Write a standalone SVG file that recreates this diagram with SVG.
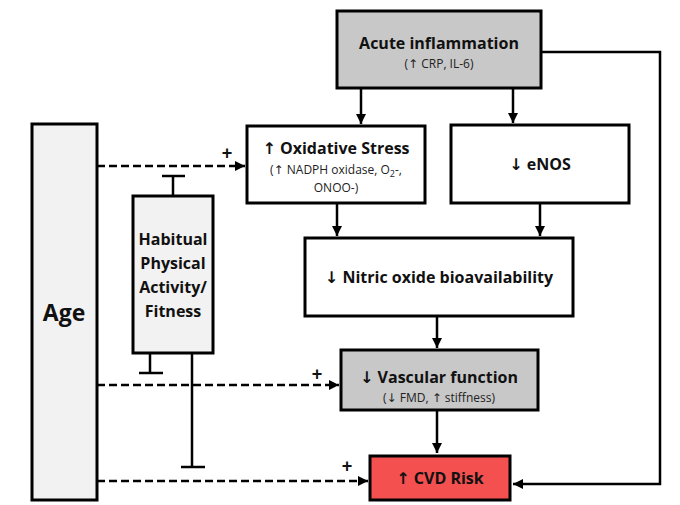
<svg xmlns="http://www.w3.org/2000/svg" width="680" height="505" viewBox="0 0 680 505">
<style>
.box{stroke:#000;stroke-width:3}
.t{font-family:"Open Sans","Liberation Sans",sans-serif;font-weight:bold;font-size:16px;fill:#111;text-anchor:middle}
.s{font-family:"Open Sans","Liberation Sans",sans-serif;font-size:12px;fill:#222;text-anchor:middle}
.a{font-family:"DejaVu Sans",sans-serif}
.c{stroke:#000;stroke-width:2.5;fill:none}
.d{stroke:#000;stroke-width:2.5;fill:none;stroke-dasharray:8 4}
.p{font-family:"Liberation Sans",sans-serif;font-weight:bold;font-size:18px;fill:#111;text-anchor:middle}
.big{font-size:23px}
</style>
<defs>
<marker id="ah" markerUnits="userSpaceOnUse" markerWidth="12" markerHeight="12" refX="10" refY="6" orient="auto">
<path d="M0,1 L10,6 L0,11 Z" fill="#000"/>
</marker>
</defs>
<rect width="680" height="505" fill="#fff"/>
<g id="connectors">
<line class="c" x1="361" y1="88" x2="361" y2="124" marker-end="url(#ah)"/>
<line class="c" x1="513" y1="88" x2="513" y2="123" marker-end="url(#ah)"/>
<line class="c" x1="337" y1="203" x2="337" y2="236" marker-end="url(#ah)"/>
<line class="c" x1="540" y1="203" x2="540" y2="236" marker-end="url(#ah)"/>
<line class="c" x1="437" y1="316" x2="437" y2="348" marker-end="url(#ah)"/>
<line class="c" x1="437" y1="410" x2="437" y2="453" marker-end="url(#ah)"/>
<polyline class="c" points="541,52 660,52 660,484 513,484" marker-end="url(#ah)"/>
<line class="d" x1="97" y1="166" x2="245" y2="166" marker-end="url(#ah)"/>
<line class="d" x1="97" y1="385" x2="339" y2="385" marker-end="url(#ah)"/>
<line class="d" x1="97" y1="481" x2="368" y2="481" marker-end="url(#ah)"/>
<text class="p" x="227" y="159">+</text>
<text class="p" x="317" y="380">+</text>
<text class="p" x="347" y="472">+</text>
<line class="c" x1="173" y1="196" x2="173" y2="176" stroke-width="3"/>
<line class="c" x1="162" y1="176" x2="185" y2="176" stroke-width="3.5"/>
<line class="c" x1="150" y1="353" x2="150" y2="373" stroke-width="3"/>
<line class="c" x1="139" y1="373" x2="163" y2="373" stroke-width="3.5"/>
<line class="c" x1="192" y1="353" x2="192" y2="467" stroke-width="3"/>
<line class="c" x1="181" y1="467" x2="205" y2="467" stroke-width="3.5"/>
</g>
<g id="acute">
<rect class="box" x="337" y="11" width="204" height="77" fill="#c8c8c8"/>
<text class="t" x="439" y="49">Acute inflammation</text>
<text class="s" x="439" y="68">(<tspan class="a">↑</tspan> CRP, IL-6)</text>
</g>
<g id="oxidative">
<rect class="box" x="247" y="126" width="178" height="77" fill="#fff"/>
<text class="t" x="336" y="154"><tspan class="a">↑</tspan> Oxidative Stress</text>
<text class="s" x="336" y="174">(<tspan class="a">↑</tspan> NADPH oxidase, O<tspan font-size="9" dy="3">2</tspan><tspan dy="-3">-,</tspan></text>
<text class="s" x="336" y="192">ONOO-)</text>
</g>
<g id="enos">
<rect class="box" x="451" y="125" width="178" height="78" fill="#fff"/>
<text class="t" x="540" y="170"><tspan class="a">↓</tspan> eNOS</text>
</g>
<g id="no">
<rect class="box" x="305" y="238" width="268" height="78" fill="#fff"/>
<text class="t" x="439" y="283"><tspan class="a">↓</tspan> Nitric oxide bioavailability</text>
</g>
<g id="vascular">
<rect class="box" x="341" y="350" width="197" height="60" fill="#c8c8c8"/>
<text class="t" x="439" y="383"><tspan class="a">↓</tspan> Vascular function</text>
<text class="s" x="439" y="402">(<tspan class="a">↓</tspan> FMD, <tspan class="a">↑</tspan> stiffness)</text>
</g>
<g id="cvd">
<rect class="box" x="370" y="456" width="140" height="44" fill="#f4504f"/>
<text class="t" x="440" y="484"><tspan class="a">↑</tspan> CVD Risk</text>
</g>
<g id="age">
<rect class="box" x="32" y="124" width="65" height="376" fill="#f2f2f2"/>
<text class="t big" x="64" y="321">Age</text>
</g>
<g id="habitual">
<rect class="box" x="133" y="196" width="80" height="157" fill="#f2f2f2"/>
<text class="t" x="173" y="245">Habitual</text>
<text class="t" x="173" y="269">Physical</text>
<text class="t" x="173" y="293">Activity/</text>
<text class="t" x="173" y="317">Fitness</text>
</g>
</svg>
